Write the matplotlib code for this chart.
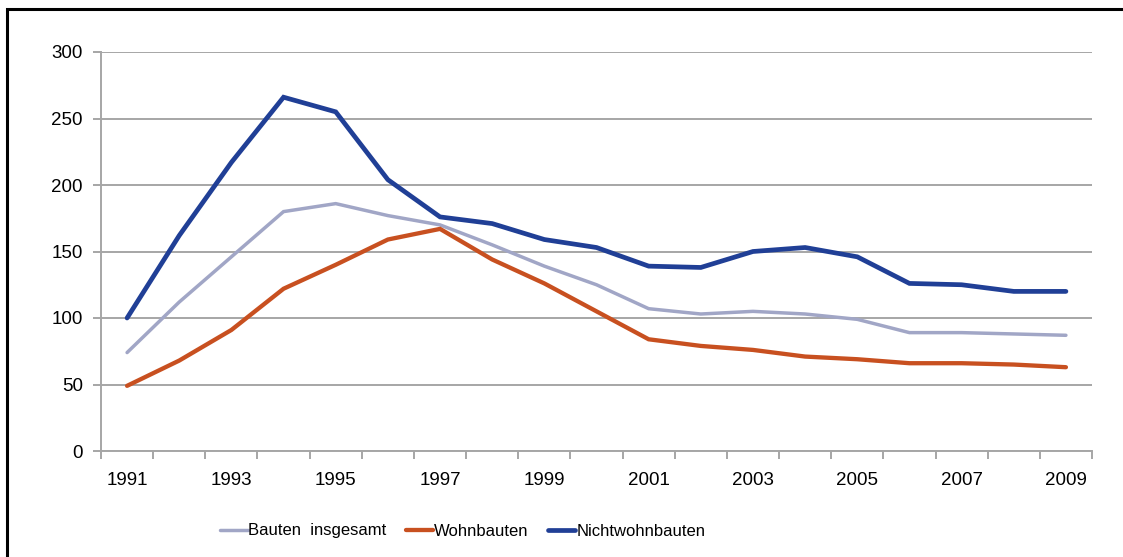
import numpy as np
import matplotlib.pyplot as plt
from matplotlib.patches import Rectangle

plt.rcParams['font.family'] = ['Liberation Sans', 'DejaVu Sans']

years = list(range(1991, 2010))
bauten = [74, 112, 146, 180, 186, 177, 170, 155, 139, 125, 107, 103, 105, 103, 99, 89, 89, 88, 87]
wohnbauten = [49, 68, 91, 122, 140, 159, 167, 144, 126, 105, 84, 79, 76, 71, 69, 66, 66, 65, 63]
nichtwohn = [100, 162, 217, 266, 255, 204, 176, 171, 159, 153, 139, 138, 150, 153, 146, 126, 125, 120, 120]

series = [
    ('Bauten  insgesamt', bauten, '#A1A6C6', 2.5),
    ('Wohnbauten', wohnbauten, '#C85020', 3.1),
    ('Nichtwohnbauten', nichtwohn, '#203F96', 3.4),
]

W, H = 1123, 557
fig = plt.figure(figsize=(W / 100, H / 100), dpi=100)

# outer frame (runs past right and bottom edge)
fig.patches.append(Rectangle((7 / W, -0.05), 1.2, 1 - 9 / H + 0.05, transform=fig.transFigure,
                             fill=False, edgecolor='black', linewidth=2.2))

ax = fig.add_axes([101 / W, (H - 451) / H, 991 / W, 399 / H])
x = np.arange(len(years))
for name, vals, col, lw in series:
    ax.plot(x, vals, color=col, lw=lw, label=name, solid_capstyle='round', solid_joinstyle='miter')

ax.set_xlim(-0.5, len(years) - 0.5)
ax.set_ylim(0, 300)
ax.set_yticks(range(0, 301, 50))
ax.grid(axis='y', color='#A6A6A6', lw=1.4)
ax.set_axisbelow(True)

ax.set_xticks(x[::2])
ax.set_xticklabels([str(y) for y in years[::2]])
ax.set_xticks(np.arange(-0.5, len(years)), minor=True)
ax.tick_params(axis='x', which='major', length=0, pad=15, labelsize=13.5)
ax.tick_params(axis='x', which='minor', length=6, width=1.4, color='#A6A6A6')
ax.tick_params(axis='y', length=6, width=1.4, color='#A6A6A6', labelsize=13.5, pad=7)

for s in ['top', 'right']:
    ax.spines[s].set_visible(False)
for s in ['left', 'bottom']:
    ax.spines[s].set_color('#A6A6A6')
    ax.spines[s].set_linewidth(1.4)

fig.legend(loc='center', bbox_to_anchor=(0.412, 1 - 531 / H), ncol=3, frameon=False,
           fontsize=12, handlelength=1.65, handletextpad=0.05, columnspacing=1.15)

fig.savefig('out.png', dpi=100)
